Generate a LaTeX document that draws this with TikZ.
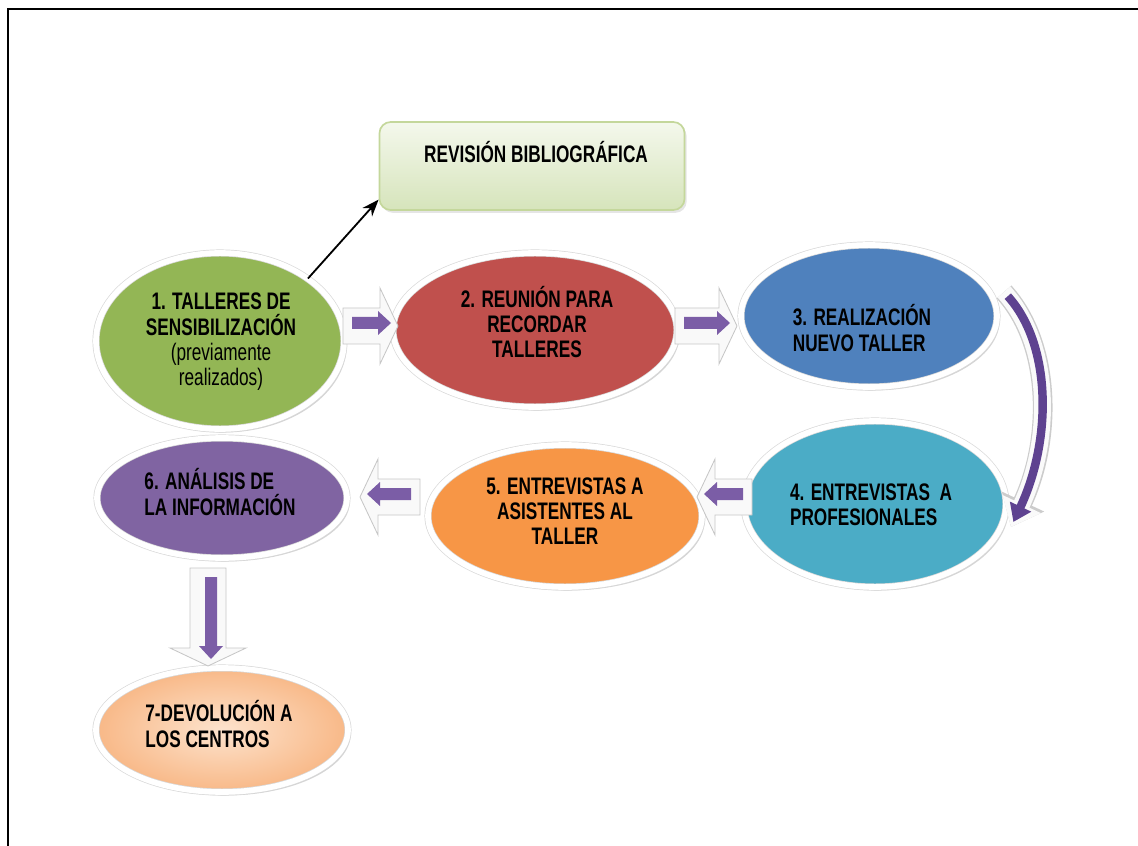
\documentclass[tikz,border=0pt]{standalone}
\usepackage{fontspec}
\setmainfont{Liberation Sans}[FakeStretch=0.72]
\usetikzlibrary{shapes.geometric,shadows,arrows.meta}

\definecolor{stagegreen}{HTML}{93B655}
\definecolor{stagered}{HTML}{C0504D}
\definecolor{stageblue}{HTML}{4F81BD}
\definecolor{stageteal}{HTML}{4BACC6}
\definecolor{stageorange}{HTML}{F79646}
\definecolor{stagepurple}{HTML}{8064A2}
\definecolor{peachin}{HTML}{FDE3CD}
\definecolor{peachout}{HTML}{F8B887}
\definecolor{arrowpurple}{HTML}{7B5DA6}
\definecolor{darkpurple}{HTML}{5E4290}
\definecolor{boxtop}{HTML}{F4F8EC}
\definecolor{boxbottom}{HTML}{D6E4BB}
\definecolor{boxline}{HTML}{C4D79B}

\tikzset{
  stage/.style={ellipse, inner sep=0pt, draw=gray!30, double=white,
    double distance=4pt, line width=0.5pt,
    drop shadow={shadow xshift=2pt, shadow yshift=-2.5pt, fill=gray!55, opacity=0.6}},
  txt/.style={font=\bfseries\fontsize{17}{18}\selectfont, text=black, inner sep=0pt},
  pics/blockarrow/.style={code={
    \filldraw[fill=white!95!gray, draw=gray!45, line width=0.6pt]
      (0,-18) -- ({#1-18},-18) -- ({#1-18},-38) -- (#1,0) -- ({#1-18},38)
      -- ({#1-18},18) -- (0,18) -- cycle;
    \fill[arrowpurple] (9,-9) -- ({#1-20},-9) -- ({#1-20},-15) -- ({#1-7},-3)
      -- ({#1-20},9) -- ({#1-20},3) -- (9,3) -- cycle;
  }}
}

\begin{document}
\begin{tikzpicture}[x=0.025cm, y=-0.025cm]
\useasboundingbox (0,0) rectangle (1138,846);
\draw [line width=2pt] (8,846) -- (8,9) -- (1138,9);

% literature box
\node [rectangle, rounded corners=8pt, minimum width=7.625cm, minimum height=2.2cm,
  draw=boxline, line width=1.2pt, top color=boxtop, bottom color=boxbottom,
  drop shadow={shadow xshift=1.5pt, shadow yshift=-2pt, fill=gray!40, opacity=0.5}]
  (rev) at (532,166) {};
\node [txt] (trev) at (536,152) {REVISIÓN BIBLIOGRÁFICA};

% stages
\node [stage, fill=stagegreen, minimum width=6.2cm, minimum height=4.4cm] (s1) at (220,341) {};
\node [stage, fill=stagered, minimum width=7.1cm, minimum height=3.85cm] (s2) at (535,330) {};
\node [stage, fill=stageblue, minimum width=6.4cm, minimum height=3.55cm] (s3) at (869,316) {};
\node [stage, fill=stageteal, minimum width=6.55cm, minimum height=4.15cm] (s4) at (875,504) {};
\node [stage, fill=stageorange, minimum width=6.85cm, minimum height=3.55cm] (s5) at (565,516) {};
\node [stage, fill=stagepurple, minimum width=6.25cm, minimum height=3cm] (s6) at (222,498) {};
\node [stage, inner color=peachin, outer color=peachout, minimum width=6.3cm, minimum height=3.1cm] (s7) at (222,730) {};

\node [txt, align=center] (t1) at (221,342)
  {1. TALLERES DE\\SENSIBILIZACIÓN\\\mdseries(previamente\\\mdseries realizados)};
\node [txt, align=center] (t2) at (537,322) {2. REUNIÓN PARA\\RECORDAR\\TALLERES};
\node [txt, align=left] (t3) at (862,328) {3. REALIZACIÓN\\NUEVO TALLER};
\node [txt, align=left] (t4) at (871,505) {4. ENTREVISTAS~~A\\PROFESIONALES};
\node [txt, align=center] (t5) at (565,511) {5. ENTREVISTAS A\\ASISTENTES AL\\TALLER};
\node [txt, align=left] (t6) at (220,492) {6. ANÁLISIS DE\\LA INFORMACIÓN};
\node [txt, align=left] (t7) at (219,724) {7-DEVOLUCIÓN A\\LOS CENTROS};

% connectors
\draw [-{Stealth[length=12pt,width=9pt]}, line width=1.3pt] (s1.north east) -- ([yshift=8pt]rev.south west);

\path (343,326) pic {blockarrow=55};
\path (675,326) pic {blockarrow=62};
\path (752,497) pic [xscale=-1] {blockarrow=55};
\path (420,497) pic [xscale=-1] {blockarrow=60};
\path (208,568) pic [rotate=-90] {blockarrow=98};

\coordinate (c3) at (1004,292);
\coordinate (c4) at (1011,527);
\draw [gray!40, line width=14pt, -{Triangle[width=32pt,length=20pt]}]
  (c3) .. controls (1052,345) and (1052,440) .. (c4);
\draw [white!96!gray, line width=12pt, -{Triangle[width=29pt,length=18pt]}]
  (c3) .. controls (1052,345) and (1052,440) .. (c4);
\draw [darkpurple, line width=6pt, -{Triangle[width=16pt,length=12pt]}, shorten <=4pt, shorten >=4pt]
  (c3) .. controls (1052,345) and (1052,440) .. (c4);
\end{tikzpicture}
\end{document}
